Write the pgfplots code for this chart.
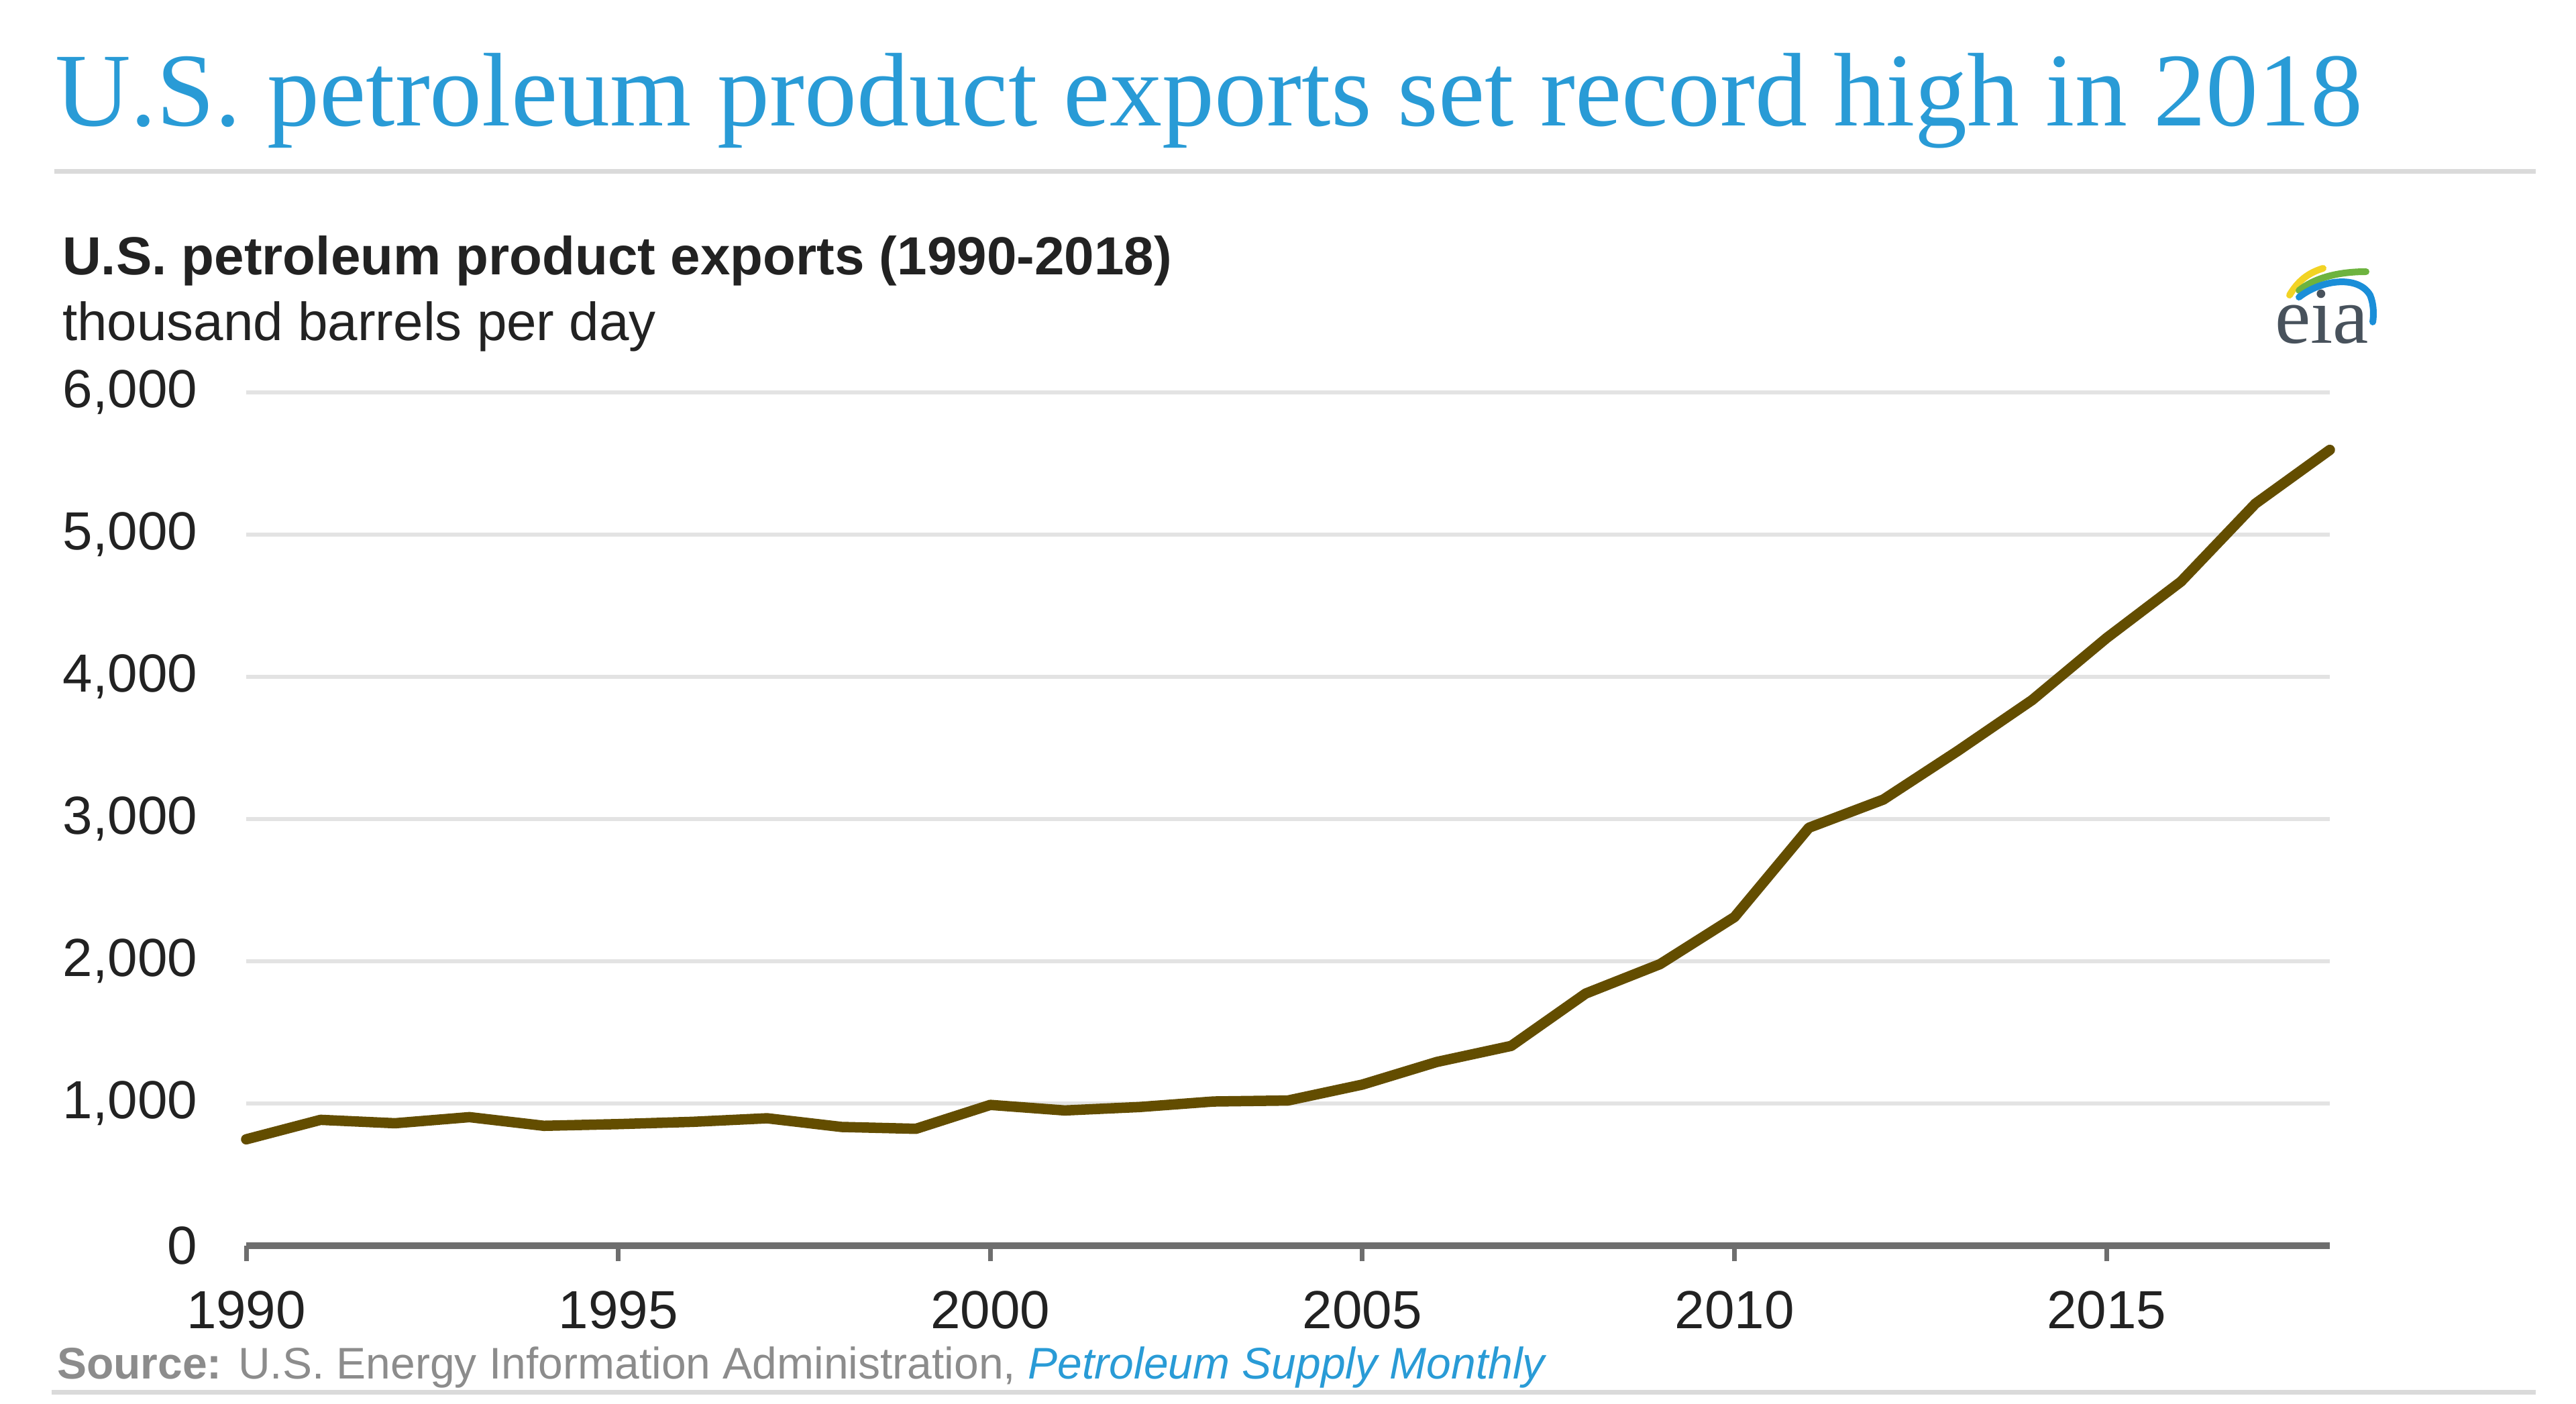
\documentclass[border=0pt]{standalone}
\usepackage{pgfplots}
\pgfplotsset{compat=1.18}
\usepackage{fontspec}
\setmainfont{Liberation Sans}
\newfontfamily\titlefont{Liberation Serif}
\definecolor{eiablue}{RGB}{41,155,214}
\definecolor{linebrown}{RGB}{99,77,0}
\definecolor{gridgray}{RGB}{227,227,227}
\definecolor{axisgray}{RGB}{110,110,110}
\definecolor{rulegray}{RGB}{218,218,218}
\definecolor{srcgray}{RGB}{140,140,140}
\definecolor{txt}{RGB}{34,34,34}
\definecolor{logotxt}{RGB}{72,82,92}
\definecolor{logoyel}{RGB}{242,211,36}
\definecolor{logogrn}{RGB}{109,179,63}
\definecolor{logoblu}{RGB}{26,142,216}
\begin{document}
\begin{tikzpicture}
\path[use as bounding box] (0,0) rectangle (768pt,418.4pt);
% title and rules
\node[anchor=base west, inner sep=0pt, text=eiablue, font=\titlefont\fontsize{31.2}{36}\selectfont] at (16.2pt,380.8pt) {U.S. petroleum product exports set record high in 2018};
\draw[rulegray, line width=1.4pt] (16.2pt,367.2pt) -- (756pt,367.2pt);
\node[anchor=base west, inner sep=0pt, text=txt, font=\bfseries\fontsize{16}{19}\selectfont] at (18.4pt,336.4pt) {U.S. petroleum product exports (1990-2018)};
\node[anchor=base west, inner sep=0pt, text=txt, font=\fontsize{16}{19}\selectfont] at (18.4pt,316.8pt) {thousand barrels per day};
% logo
\node[anchor=base west, inner sep=0pt, text=logotxt, font=\titlefont\fontsize{24}{26}\selectfont] at (678pt,316pt) {eia};
\draw[logoyel, line width=2pt, line cap=round] (682.6pt,330.4pt) .. controls (685pt,334.5pt) and (688pt,337pt) .. (692.6pt,338.4pt);
\draw[logogrn, line width=2pt, line cap=round] (685.4pt,331.8pt) .. controls (690pt,335.5pt) and (697pt,337.4pt) .. (705.4pt,337.4pt);
\draw[logoblu, line width=2pt, line cap=round] (685.4pt,329.8pt) .. controls (692pt,335pt) and (703pt,336.5pt) .. (706.6pt,330.4pt) .. controls (707.6pt,328pt) and (707.8pt,325pt) .. (707.4pt,322.4pt);
\begin{axis}[
  at={(73.4pt,47pt)}, anchor=south west,
  scale only axis, width=621.2pt, height=254.4pt,
  xmin=1990, xmax=2018, ymin=0, ymax=6000,
  axis x line*=bottom, axis y line*=left,
  y axis line style={draw=none},
  x axis line style={draw=axisgray, line width=2pt, -},
  xtick={1990,1995,...,2015},
  ytick={0,1000,...,6000},
  tick align=outside,
  major tick length=4.6pt,
  xtick style={draw=axisgray, line width=1.4pt},
  ytick style={draw=none},
  ymajorgrids, grid style={gridgray, line width=1.3pt},
  /pgf/number format/assume math mode=true,
  ticklabel style={font=\fontsize{16}{19}\selectfont, text=txt, inner sep=0pt},
  xticklabel style={/pgf/number format/1000 sep={}, yshift=-8.8pt},
  yticklabel style={/pgf/number format/1000 sep={,}, xshift=-9.8pt},
  clip=false,
]
\addplot[linebrown, line width=3.1pt, line join=round, line cap=round] coordinates {
(1990,748) (1991,885) (1992,861) (1993,904) (1994,843) (1995,855) (1996,871)
(1997,896) (1998,835) (1999,822) (2000,990) (2001,951) (2002,975) (2003,1014)
(2004,1021) (2005,1133) (2006,1292) (2007,1405) (2008,1773) (2009,1980)
(2010,2311) (2011,2939) (2012,3137) (2013,3479) (2014,3837) (2015,4273)
(2016,4670) (2017,5218) (2018,5596)
};
\end{axis}
% source
\node[anchor=base west, inner sep=0pt, text=srcgray, font=\fontsize{13.2}{15}\selectfont] at (16.8pt,7.4pt) {\textbf{Source:} U.S. Energy Information Administration, \textcolor{eiablue}{\itshape Petroleum Supply Monthly}};
\draw[rulegray, line width=1.4pt] (15.4pt,3.4pt) -- (756pt,3.4pt);
\end{tikzpicture}
\end{document}
